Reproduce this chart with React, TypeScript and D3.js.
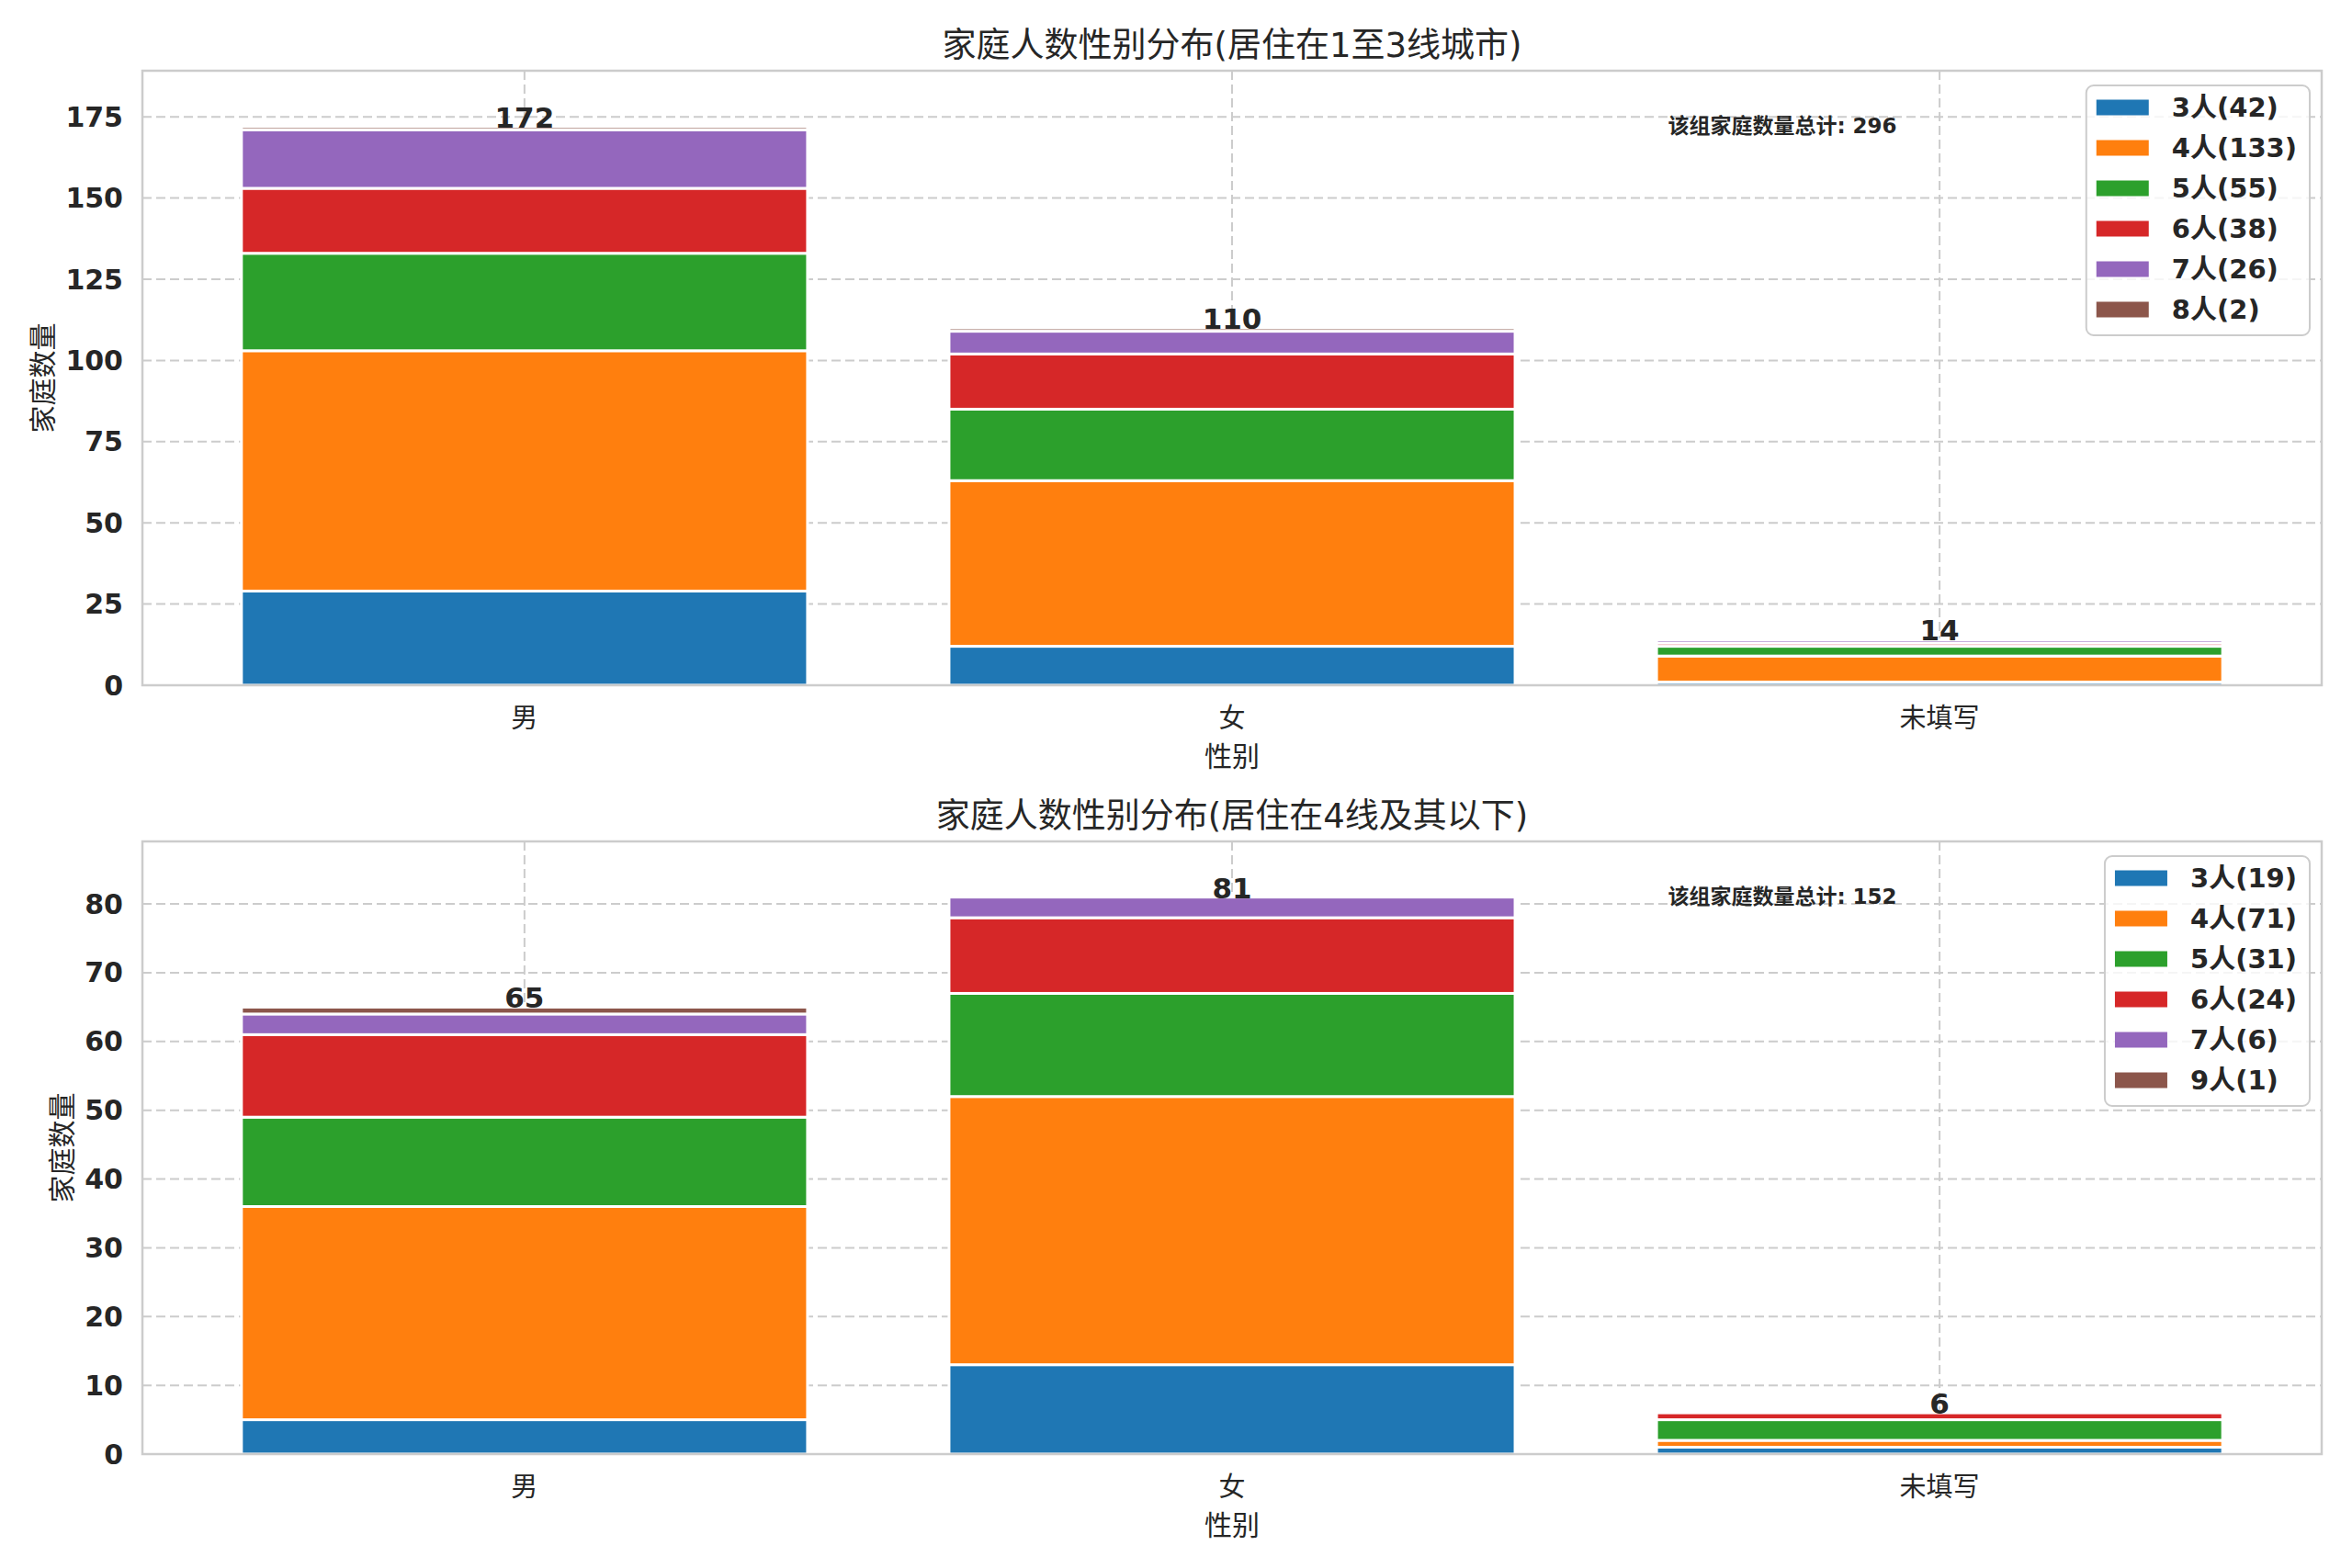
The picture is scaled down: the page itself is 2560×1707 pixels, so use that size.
import * as d3 from "d3"
import { useRef, useEffect } from "react"

const categories = ["男", "女", "未填写"]
const colors = ["#1f77b4", "#ff7f0e", "#2ca02c", "#d62728", "#9467bd", "#8c564b"]

// upper panel: household size -> counts per category
const topSizes = [3, 4, 5, 6, 7, 8]
const topCounts = [
  [29, 12, 1],
  [74, 51, 8],
  [30, 22, 3],
  [20, 17, 1],
  [18, 7, 1],
  [1, 1, 0],
]
const topTicks = [0, 25, 50, 75, 100, 125, 150, 175]

// lower panel
const bottomSizes = [3, 4, 5, 6, 7, 9]
const bottomCounts = [
  [5, 13, 1],
  [31, 39, 1],
  [13, 15, 3],
  [12, 11, 1],
  [3, 3, 0],
  [1, 0, 0],
]
const bottomTicks = [0, 10, 20, 30, 40, 50, 60, 70, 80]

const titles = ["家庭人数性别分布(居住在1至3线城市)", "家庭人数性别分布(居住在4线及其以下)"]
const xLabel = "性别"
const yLabel = "家庭数量"
const totalLabel = "该组家庭数量总计"
const unit = "人"

const W = 2560
const H = 1707
const FONT = "'DejaVu Sans', 'Noto Sans CJK SC', sans-serif"
const TEXT = "#262626"
const GRID = "#cccccc"

type Panel = {
  sizes: number[]
  counts: number[][]
  ticks: number[]
  title: string
  top: number
  bottom: number
  yLabelX: number
}

function drawPanel(svg: d3.Selection<SVGSVGElement, unknown, null, undefined>, p: Panel) {
  const left = 155
  const right = 2527
  const g = svg.append("g")

  const rows = categories.map((c, ci) => {
    const r: { [k: string]: number | string } = { cat: c }
    p.sizes.forEach((s, si) => (r[String(s)] = p.counts[si][ci]))
    return r
  })
  const totals = categories.map((_, ci) => d3.sum(p.counts, (row) => row[ci]))

  const x = d3.scaleBand().domain(categories).range([left, right]).paddingInner(0.2).paddingOuter(0.14)
  const y = d3
    .scaleLinear()
    .domain([0, (d3.max(totals) as number) * 1.1])
    .range([p.bottom, p.top])

  // grid
  g.selectAll(".hgrid")
    .data(p.ticks)
    .enter()
    .append("line")
    .attr("x1", left)
    .attr("x2", right)
    .attr("y1", (d) => y(d))
    .attr("y2", (d) => y(d))
    .attr("stroke", GRID)
    .attr("stroke-width", 2)
    .attr("stroke-dasharray", "10,5")
  g.selectAll(".vgrid")
    .data(categories)
    .enter()
    .append("line")
    .attr("x1", (d) => (x(d) as number) + x.bandwidth() / 2)
    .attr("x2", (d) => (x(d) as number) + x.bandwidth() / 2)
    .attr("y1", p.top)
    .attr("y2", p.bottom)
    .attr("stroke", GRID)
    .attr("stroke-width", 2)
    .attr("stroke-dasharray", "10,5")

  // stacked bars
  const stack = d3.stack<{ [k: string]: number | string }>().keys(p.sizes.map(String))
  const series = stack(rows as any)
  series.forEach((layer, li) => {
    g.append("g")
      .selectAll("rect")
      .data(layer.filter((d) => d[1] - d[0] > 0))
      .enter()
      .append("rect")
      .attr("x", (d) => x(d.data.cat as string) as number)
      .attr("width", x.bandwidth())
      .attr("y", (d) => y(d[1]))
      .attr("height", (d) => y(d[0]) - y(d[1]))
      .attr("fill", colors[li])
      .attr("stroke", "white")
      .attr("stroke-width", 3)
  })

  // spines
  g.append("rect")
    .attr("x", left)
    .attr("y", p.top)
    .attr("width", right - left)
    .attr("height", p.bottom - p.top)
    .attr("fill", "none")
    .attr("stroke", GRID)
    .attr("stroke-width", 2.5)

  // y ticks
  g.selectAll(".ytick")
    .data(p.ticks)
    .enter()
    .append("text")
    .attr("x", 134)
    .attr("y", (d) => y(d))
    .attr("dy", "0.35em")
    .attr("text-anchor", "end")
    .attr("font-size", 30)
    .attr("font-weight", "bold")
    .attr("fill", TEXT)
    .text((d) => d)

  // x ticks
  g.selectAll(".xtick")
    .data(categories)
    .enter()
    .append("text")
    .attr("x", (d) => (x(d) as number) + x.bandwidth() / 2)
    .attr("y", p.bottom + 36)
    .attr("dy", "0.35em")
    .attr("text-anchor", "middle")
    .attr("font-size", 29)
    .attr("fill", TEXT)
    .text((d) => d)

  // axis labels
  g.append("text")
    .attr("x", (left + right) / 2)
    .attr("y", p.bottom + 77)
    .attr("dy", "0.35em")
    .attr("text-anchor", "middle")
    .attr("font-size", 30)
    .attr("fill", TEXT)
    .text(xLabel)
  g.append("text")
    .attr("transform", `translate(${p.yLabelX},${(p.top + p.bottom) / 2}) rotate(-90)`)
    .attr("dy", "0.35em")
    .attr("text-anchor", "middle")
    .attr("font-size", 30)
    .attr("fill", TEXT)
    .text(yLabel)

  // title
  g.append("text")
    .attr("x", (left + right) / 2)
    .attr("y", p.top - 15)
    .attr("text-anchor", "middle")
    .attr("font-size", 37)
    .attr("fill", TEXT)
    .text(p.title)

  // totals above bars
  g.selectAll(".total")
    .data(totals)
    .enter()
    .append("text")
    .attr("x", (_, i) => (x(categories[i]) as number) + x.bandwidth() / 2)
    .attr("y", (d) => y(d) + 1)
    .attr("text-anchor", "middle")
    .attr("font-size", 31)
    .attr("font-weight", "bold")
    .attr("fill", TEXT)
    .text((d) => d)

  // group total note
  g.append("text")
    .attr("x", left + (right - left) * 0.7)
    .attr("y", p.top + 68)
    .attr("font-size", 23)
    .attr("font-weight", "bold")
    .attr("fill", TEXT)
    .text(`${totalLabel}: ${d3.sum(totals)}`)

  // legend
  const lg = g.append("g")
  const rowH = 44
  const items = p.sizes.map((s, si) => `${s}${unit}(${d3.sum(p.counts[si])})`)
  const frame = lg.append("rect")
  const texts = lg
    .selectAll(".ltext")
    .data(items)
    .enter()
    .append("text")
    .attr("y", (_, i) => 24 + i * rowH)
    .attr("dy", "0.35em")
    .attr("font-size", 29)
    .attr("font-weight", "bold")
    .attr("fill", TEXT)
    .text((d) => d)
  let maxW = 0
  texts.each(function () {
    maxW = Math.max(maxW, (this as SVGTextElement).getComputedTextLength())
  })
  const boxW = 11 + 57 + 25 + maxW + 14
  const boxH = 24 + (items.length - 1) * rowH + 28
  const x0 = right - 13 - boxW
  lg.attr("transform", `translate(${x0},${p.top + 16})`)
  frame
    .attr("width", boxW)
    .attr("height", boxH)
    .attr("rx", 8)
    .attr("fill", "white")
    .attr("fill-opacity", 0.8)
    .attr("stroke", GRID)
    .attr("stroke-width", 2)
  texts.attr("x", 11 + 57 + 25)
  lg.selectAll(".lpatch")
    .data(items)
    .enter()
    .append("rect")
    .attr("x", 11)
    .attr("y", (_, i) => 24 + i * rowH - 8.5)
    .attr("width", 57)
    .attr("height", 17)
    .attr("fill", (_, i) => colors[i])
}

export default function App() {
  const svgRef = useRef<SVGSVGElement>(null)

  useEffect(() => {
    if (!svgRef.current) return
    const svg = d3.select(svgRef.current)
    svg.selectAll("*").remove()
    svg.append("rect").attr("width", W).attr("height", H).attr("fill", "white")

    drawPanel(svg, {
      sizes: topSizes,
      counts: topCounts,
      ticks: topTicks,
      title: titles[0],
      top: 77,
      bottom: 746,
      yLabelX: 46,
    })
    drawPanel(svg, {
      sizes: bottomSizes,
      counts: bottomCounts,
      ticks: bottomTicks,
      title: titles[1],
      top: 916,
      bottom: 1583,
      yLabelX: 67,
    })
  }, [])

  return (
    <svg
      ref={svgRef}
      width={W}
      height={H}
      viewBox={`0 0 ${W} ${H}`}
      style={{ position: "absolute", left: 0, top: 0, fontFamily: FONT }}
    ></svg>
  )
}
